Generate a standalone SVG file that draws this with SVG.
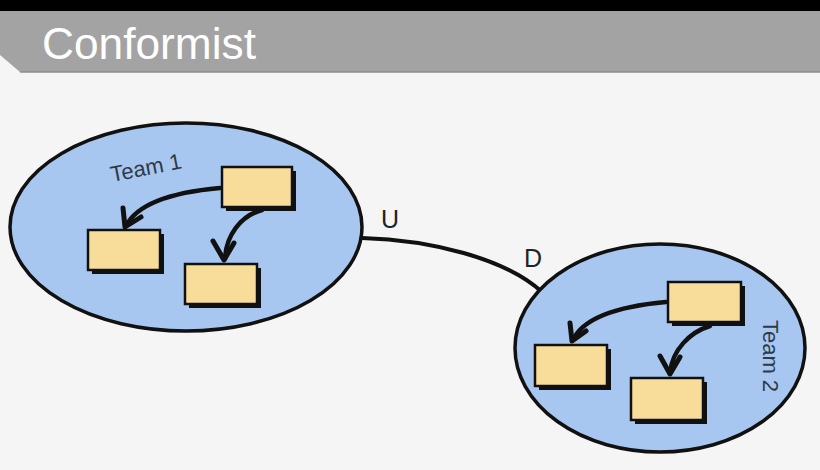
<svg xmlns="http://www.w3.org/2000/svg" width="820" height="470" viewBox="0 0 820 470">
<defs>
<style>
.team{fill:#a8c7f0;stroke:#111;stroke-width:3.5}
.box{fill:#f8dc9a;stroke:#111;stroke-width:2.5}
.shadow{fill:#111}
.arr{fill:none;stroke:#111;stroke-width:4.5;stroke-linecap:round}
.head{fill:none;stroke:#111;stroke-width:5;stroke-linecap:round;stroke-linejoin:round}
.lbl{font-family:"Liberation Sans",Arial,sans-serif;font-size:22px;fill:#2e3a48}
.ud{font-family:"Liberation Sans",Arial,sans-serif;font-size:25px;fill:#222}
</style>
</defs>
<rect width="820" height="470" fill="#f5f5f5"/>
<rect x="0" y="0" width="820" height="11" fill="#000"/>
<path d="M0 11 H820 V72 H20 L0 55 Z" fill="#a3a3a4"/>
<line x1="20" y1="72" x2="820" y2="72" stroke="#8e8e8e" stroke-width="1.5"/>
<text x="42" y="59" font-family="Liberation Sans,Arial,sans-serif" font-size="44" textLength="214" lengthAdjust="spacingAndGlyphs" fill="#ffffff">Conformist</text>

<g id="connectors">
<path d="M362 238 C430 240 505 258 542 292" fill="none" stroke="#111" stroke-width="4"/>
</g>
<text class="ud" x="381" y="228">U</text>
<text class="ud" x="524" y="267">D</text>

<g id="team1">
<ellipse class="team" cx="186" cy="227" rx="176" ry="104"/>
<text class="lbl" x="112" y="182" transform="rotate(-11 112 182)">Team 1</text>
<rect class="shadow" x="226" y="171" width="70" height="40"/>
<rect class="box" x="222" y="167" width="70" height="40"/>
<rect class="shadow" x="92" y="234" width="72" height="40"/>
<rect class="box" x="88" y="230" width="72" height="40"/>
<rect class="shadow" x="189" y="268" width="72" height="40"/>
<rect class="box" x="185" y="264" width="72" height="40"/>
<path class="arr" d="M220 188 C175 192 138 202 126 226"/>
<polyline class="head" points="123,208 125,227 141,217"/>
<path class="arr" d="M262 210 C240 216 226 236 225 259"/>
<polyline class="head" points="213,241 224,260 234,243"/>
</g>

<g id="team2">
<ellipse class="team" cx="660" cy="348" rx="145" ry="104"/>
<text class="lbl" x="763" y="356" text-anchor="middle" transform="rotate(90 763 356)">Team 2</text>
<rect class="shadow" x="672" y="286" width="73" height="40"/>
<rect class="box" x="668" y="282" width="73" height="40"/>
<rect class="shadow" x="539" y="349" width="72" height="41"/>
<rect class="box" x="535" y="345" width="72" height="41"/>
<rect class="shadow" x="635" y="382" width="72" height="42"/>
<rect class="box" x="631" y="378" width="72" height="42"/>
<path class="arr" d="M666 302 C622 306 584 316 573 340"/>
<polyline class="head" points="570,323 572,341 586,331"/>
<path class="arr" d="M710 326 C690 332 672 350 670 373"/>
<polyline class="head" points="660,356 670,374 680,357"/>
</g>
</svg>
